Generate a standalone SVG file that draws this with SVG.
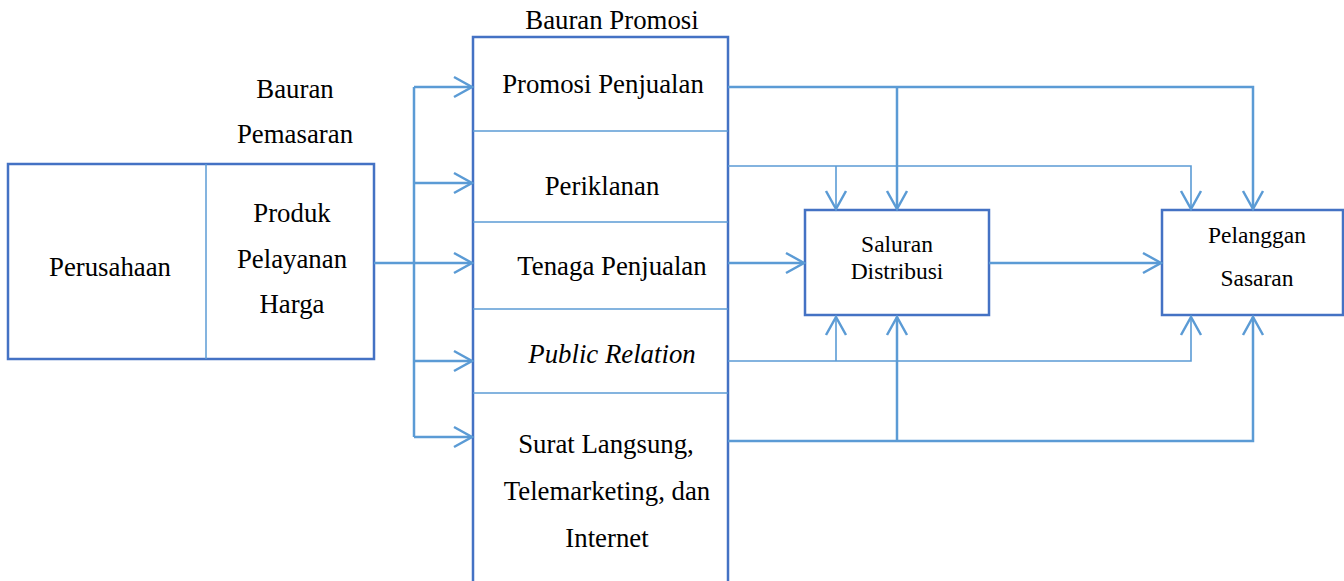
<svg xmlns="http://www.w3.org/2000/svg" width="1344" height="581" viewBox="0 0 1344 581" font-family="'Liberation Serif', 'DejaVu Serif', serif">
<style>
text{fill:#000;text-anchor:middle}
.t{font-size:26.8px}
.s{font-size:23.5px}
.box{fill:#fff;stroke:#4472C4;stroke-width:2.5}
.div{stroke:#5B9BD5;stroke-width:1.5;fill:none}
.c{stroke:#5B9BD5;stroke-width:2.5;fill:none}
.ct{stroke:#5B9BD5;stroke-width:1.6;fill:none}
.a{marker-end:url(#arr)}
</style>
<defs>
<marker id="arr" markerUnits="userSpaceOnUse" markerWidth="24" markerHeight="26" viewBox="-20 -12 24 24" refX="0" refY="0" orient="auto">
<path d="M-18,-10 L0,0 L-18,10" fill="none" stroke="#5B9BD5" stroke-width="2.5"/>
</marker>
</defs>
<g id="label-bauran-pemasaran">
<text class="t" x="295" y="98">Bauran</text>
<text class="t" x="295" y="143">Pemasaran</text>
</g>
<g id="node-perusahaan">
<rect class="box" x="8" y="164" width="366" height="195"/>
<line class="div" x1="206" y1="164" x2="206" y2="359"/>
<text class="t" x="110" y="276">Perusahaan</text>
<text class="t" x="292" y="222">Produk</text>
<text class="t" x="292" y="268">Pelayanan</text>
<text class="t" x="292" y="313">Harga</text>
</g>
<g id="node-bauran-promosi">
<text class="t" x="612" y="29">Bauran Promosi</text>
<rect class="box" x="473" y="37" width="255" height="560"/>
<line class="div" x1="473" y1="131" x2="728" y2="131"/>
<line class="div" x1="473" y1="222" x2="728" y2="222"/>
<line class="div" x1="473" y1="309" x2="728" y2="309"/>
<line class="div" x1="473" y1="393" x2="728" y2="393"/>
<text class="t" x="603" y="93">Promosi Penjualan</text>
<text class="t" x="602" y="195">Periklanan</text>
<text class="t" x="612" y="275">Tenaga Penjualan</text>
<text class="t" x="612" y="363" font-style="italic">Public Relation</text>
<text class="t" x="606" y="453">Surat Langsung,</text>
<text class="t" x="607" y="500">Telemarketing, dan</text>
<text class="t" x="607" y="547">Internet</text>
</g>
<g id="node-saluran">
<rect class="box" x="805" y="210" width="184" height="105"/>
<text class="s" x="897" y="252">Saluran</text>
<text class="s" x="897" y="279">Distribusi</text>
</g>
<g id="node-pelanggan">
<rect class="box" x="1162" y="210" width="181" height="105"/>
<text class="s" x="1257" y="243">Pelanggan</text>
<text class="s" x="1257" y="286">Sasaran</text>
</g>
<g id="connectors">
<path class="c a" d="M374,263 H472"/>
<path class="c" d="M414,87 V437"/>
<path class="c a" d="M414,87 H472"/>
<path class="c a" d="M414,183 H472"/>
<path class="c a" d="M414,361 H472"/>
<path class="c a" d="M414,437 H472"/>
<path class="c a" d="M728,87 H1253 V209"/>
<path class="c a" d="M897,87 V209"/>
<path class="ct a" d="M728,166 H1191 V209"/>
<path class="ct a" d="M836,166 V209"/>
<path class="c a" d="M728,263 H804"/>
<path class="c a" d="M989,263 H1161"/>
<path class="ct a" d="M728,361 H1191 V317"/>
<path class="ct a" d="M836,361 V317"/>
<path class="c a" d="M728,441 H1253 V317"/>
<path class="c a" d="M897,441 V317"/>
</g>
</svg>
